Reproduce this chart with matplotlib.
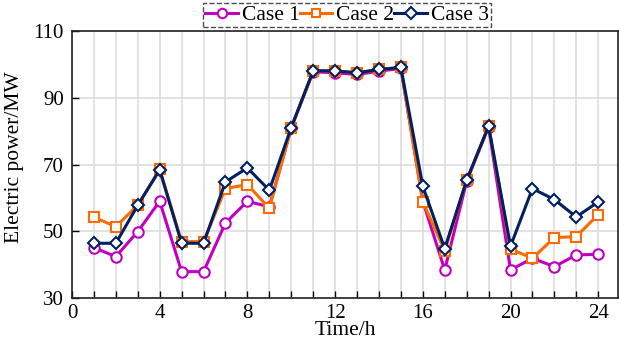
import matplotlib.pyplot as plt
import numpy as np

plt.rcParams['font.family'] = ['Liberation Serif', 'DejaVu Serif']
plt.rcParams['mathtext.fontset'] = 'stix'

horas = np.arange(1, 25)
caso1 = [45.1, 42.4, 49.9, 59.0, 37.9, 37.9, 52.5, 59.0, 57.3, 81.0,
         97.8, 97.5, 97.0, 98.0, 98.8, 59.0, 38.4, 65.0, 81.3, 38.4,
         41.9, 39.4, 42.9, 43.1]
caso2 = [54.2, 51.4, 57.8, 68.6, 46.9, 46.9, 62.8, 64.0, 56.9, 81.0,
         98.1, 98.1, 97.5, 98.5, 99.1, 58.8, 44.2, 65.3, 81.5, 44.7,
         41.9, 48.1, 48.4, 55.0]
caso3 = [46.4, 46.4, 57.8, 68.4, 46.4, 46.4, 64.8, 69.0, 62.3, 81.1,
         98.1, 98.1, 97.5, 98.5, 99.1, 63.5, 44.8, 65.3, 81.5, 45.5,
         62.8, 59.5, 54.3, 58.8]

fig = plt.figure(figsize=(6.19, 3.42), dpi=100)
ax = fig.add_axes([0.1163, 0.1287, 0.882, 0.7803])

ax.plot(horas, caso1, color='#C000C0', lw=2.2, marker='o', ms=7.5,
        mfc='white', mew=1.5, label='Case 1')
ax.plot(horas, caso2, color='#FF6A00', lw=2.2, marker='s', ms=7,
        mfc='white', mew=1.5, label='Case 2')
ax.plot(horas, caso3, color='#002060', lw=2.2, marker='D', ms=6.5,
        mfc='white', mew=1.5, label='Case 3')

ax.set_xlim(0, 24.9)
ax.set_ylim(30, 110)
ax.set_xticks(np.arange(0, 25, 4))
ax.set_xticks(np.arange(0, 25, 1), minor=True)
ax.set_yticks(np.arange(30, 111, 20))
ax.grid(True, which='major', axis='y', color='#DDDDDD', lw=1.2)
ax.grid(True, which='both', axis='x', color='#DDDDDD', lw=1.2)
ax.set_axisbelow(True)
ax.tick_params(axis='x', direction='in', labelsize=15, length=5, width=1, pad=4)
ax.tick_params(axis='y', direction='in', labelsize=15, length=5, width=1, pad=6)
ax.tick_params(which='minor', direction='in', length=5, width=1)
for s in ax.spines.values():
    s.set_linewidth(1.2)
    s.set_color('#222222')

ax.set_xlabel('Time/h', fontsize=15.5, labelpad=-1)
ax.set_ylabel('Electric power/MW', fontsize=15.5)
ax.yaxis.set_label_coords(-0.088, 0.526)

leg = fig.legend(loc='center', bbox_to_anchor=(0.561, 0.956), ncol=3,
                 fontsize=15.5, frameon=True, fancybox=False,
                 handlelength=1.5, handletextpad=0.2, columnspacing=0.0,
                 borderpad=0.1, borderaxespad=0, markerscale=0.9)
leg.get_frame().set_linestyle('--')
leg.get_frame().set_edgecolor('#222222')
leg.get_frame().set_linewidth(1)

plt.savefig('out.png', dpi=100)
